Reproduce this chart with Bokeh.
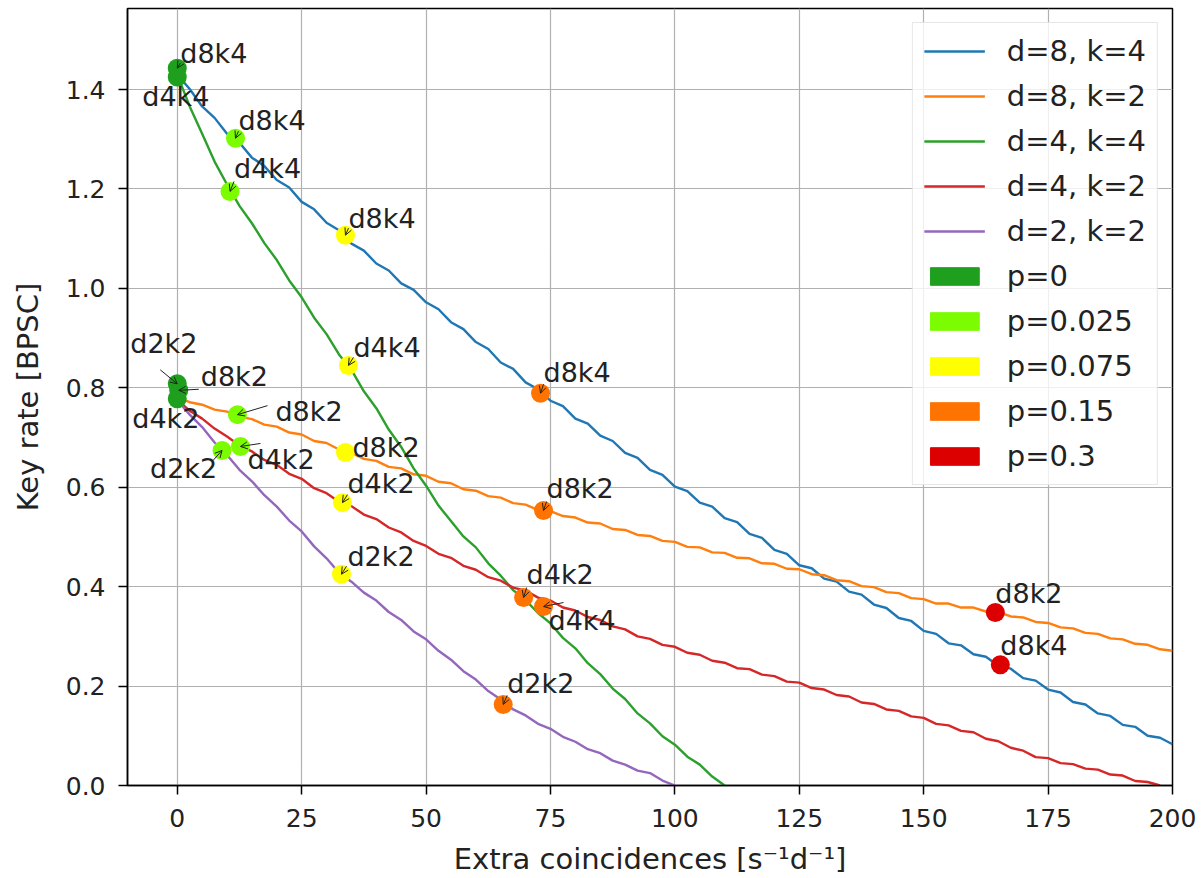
from bokeh.plotting import figure
from bokeh.models import (ColumnDataSource, Range1d, FixedTicker, PrintfTickFormatter,
                          Legend, LegendItem, Arrow, OpenHead)
from bokeh.core.properties import value
from bokeh.embed import file_html
from bokeh.resources import INLINE

FONT = "DejaVu Sans"

# ---------------- data ----------------
X_GRID = [0, 2.5, 5, 7.5, 10, 12.5, 15, 17.5, 20, 22.5, 25, 27.5, 30, 32.5, 35, 37.5,
          40, 42.5, 45, 47.5, 50, 52.5, 55, 57.5, 60, 62.5, 65, 67.5, 70, 72.5, 75, 77.5,
          80, 82.5, 85, 87.5, 90, 92.5, 95, 97.5, 100, 102.5, 105, 107.5, 110, 112.5, 115,
          117.5, 120, 122.5, 125, 127.5, 130, 132.5, 135, 137.5, 140, 142.5, 145, 147.5,
          150, 152.5, 155, 157.5, 160, 162.5, 165, 167.5, 170, 172.5, 175, 177.5, 180,
          182.5, 185, 187.5, 190, 192.5, 195, 197.5, 200]

Y_D8K4 = [1.430, 1.401, 1.366, 1.343, 1.311, 1.293, 1.263, 1.246, 1.218, 1.203, 1.174, 1.159,
          1.132, 1.117, 1.090, 1.076, 1.050, 1.036, 1.010, 0.997, 0.972, 0.958, 0.932, 0.918,
          0.892, 0.878, 0.851, 0.838, 0.811, 0.797, 0.774, 0.763, 0.738, 0.728, 0.704, 0.693,
          0.669, 0.659, 0.635, 0.625, 0.601, 0.592, 0.569, 0.561, 0.538, 0.530, 0.506, 0.498,
          0.474, 0.466, 0.443, 0.437, 0.416, 0.410, 0.390, 0.384, 0.364, 0.357, 0.337, 0.331,
          0.311, 0.305, 0.286, 0.282, 0.264, 0.259, 0.241, 0.235, 0.216, 0.211, 0.193, 0.187,
          0.168, 0.163, 0.145, 0.140, 0.122, 0.118, 0.100, 0.096, 0.083]

Y_D8K2 = [0.780, 0.771, 0.766, 0.756, 0.752, 0.742, 0.737, 0.726, 0.722, 0.710, 0.706, 0.693,
          0.689, 0.676, 0.669, 0.657, 0.653, 0.641, 0.638, 0.626, 0.623, 0.611, 0.608, 0.596,
          0.593, 0.582, 0.579, 0.568, 0.565, 0.554, 0.552, 0.542, 0.539, 0.529, 0.527, 0.516,
          0.514, 0.504, 0.502, 0.492, 0.490, 0.480, 0.479, 0.469, 0.468, 0.458, 0.457, 0.447,
          0.446, 0.436, 0.435, 0.425, 0.423, 0.413, 0.411, 0.401, 0.399, 0.389, 0.387, 0.377,
          0.375, 0.366, 0.366, 0.358, 0.358, 0.350, 0.349, 0.340, 0.338, 0.329, 0.327, 0.318,
          0.316, 0.307, 0.305, 0.296, 0.294, 0.285, 0.283, 0.274, 0.271]

Y_D4K4 = [1.430, 1.366, 1.311, 1.255, 1.209, 1.166, 1.131, 1.091, 1.057, 1.016, 0.982, 0.941,
          0.908, 0.867, 0.836, 0.793, 0.759, 0.716, 0.681, 0.638, 0.603, 0.563, 0.532, 0.501,
          0.479, 0.447, 0.422, 0.393, 0.373, 0.347, 0.326, 0.297, 0.276, 0.246, 0.224, 0.195,
          0.174, 0.145, 0.125, 0.099, 0.082, 0.058, 0.042, 0.018, 0.000]

Y_D4K2 = [0.775, 0.754, 0.738, 0.718, 0.702, 0.684, 0.672, 0.655, 0.645, 0.627, 0.617, 0.598,
          0.588, 0.571, 0.562, 0.545, 0.536, 0.519, 0.509, 0.492, 0.482, 0.466, 0.458, 0.442,
          0.434, 0.419, 0.412, 0.398, 0.392, 0.378, 0.372, 0.358, 0.352, 0.339, 0.333, 0.320,
          0.314, 0.300, 0.295, 0.283, 0.279, 0.267, 0.263, 0.251, 0.247, 0.236, 0.234, 0.223,
          0.220, 0.209, 0.207, 0.196, 0.193, 0.182, 0.179, 0.167, 0.164, 0.153, 0.150, 0.139,
          0.136, 0.124, 0.121, 0.110, 0.107, 0.094, 0.089, 0.076, 0.070, 0.057, 0.055, 0.045,
          0.043, 0.034, 0.032, 0.022, 0.020, 0.009, 0.007, 0.000]

Y_D2K2 = [0.775, 0.746, 0.721, 0.690, 0.665, 0.635, 0.612, 0.584, 0.561, 0.533, 0.511, 0.481,
          0.457, 0.428, 0.410, 0.388, 0.372, 0.349, 0.333, 0.310, 0.294, 0.271, 0.253, 0.230,
          0.213, 0.190, 0.173, 0.153, 0.141, 0.124, 0.114, 0.098, 0.088, 0.073, 0.065, 0.050,
          0.042, 0.030, 0.025, 0.010, 0.000]

SERIES_LABELS = ["d=8, k=4", "d=8, k=2", "d=4, k=4", "d=4, k=2", "d=2, k=2"]
SERIES_Y = [Y_D8K4, Y_D8K2, Y_D4K4, Y_D4K2, Y_D2K2]
SERIES_COLORS = ["#1f77b4", "#ff7f0e", "#2ca02c", "#d62728", "#9467bd"]

P_LABELS = ["p=0", "p=0.025", "p=0.075", "p=0.15", "p=0.3"]
P_COLORS = ["#1ea01e", "#7cfc00", "#ffff00", "#ff7400", "#dd0000"]

# marked operating points
MK_TEXT = ["d8k4", "d4k4", "d2k2", "d8k2", "d4k2",
           "d8k4", "d4k4", "d8k2", "d2k2", "d4k2",
           "d8k4", "d4k4", "d8k2", "d4k2", "d2k2",
           "d8k4", "d8k2", "d4k2", "d4k4", "d2k2",
           "d8k2", "d8k4"]
MK_P = [0, 0, 0, 0, 0,
        1, 1, 1, 1, 1,
        2, 2, 2, 2, 2,
        3, 3, 3, 3, 3,
        4, 4]
MK_X = [0.0, 0.0, 0.0, 0.3, 0.0,
        11.7, 10.6, 12.1, 9.0, 12.7,
        33.8, 34.4, 33.8, 33.2, 33.0,
        73.0, 73.6, 69.6, 73.6, 65.5,
        164.4, 165.4]
MK_Y = [1.443, 1.425, 0.808, 0.795, 0.778,
        1.302, 1.195, 0.746, 0.674, 0.682,
        1.107, 0.845, 0.670, 0.569, 0.425,
        0.789, 0.553, 0.378, 0.360, 0.163,
        0.348, 0.243]

X_TICKS = [0, 25, 50, 75, 100, 125, 150, 175, 200]
Y_TICKS = [0.0, 0.2, 0.4, 0.6, 0.8, 1.0, 1.2, 1.4]

# ---------------- layout / style (pixels) ----------------
FRAME_W, FRAME_H = 1045, 777
X0, X1 = -10, 200
Y0, Y1 = 0.0, 1.563
PXX = (X1 - X0) / FRAME_W
PXY = (Y1 - Y0) / FRAME_H
TEXT_RAISE = 9

# text offsets (px, right / up) and arrow starts (px, right / up) per annotation
TXT_DX = [3, -35, -47, 22, -45, 3, 4, 38, -72, 7, 3, 5, 7, 5, 6, 3, 3, 3, 5, 4, 0, 0]
TXT_DY = [6, -28, 31, 5, -29, 9, 14, -6, -27, -22, 8, 9, -4, 10, 9, 12, 13, 14, -23, 12, 10, 10]
ARR_DX = [3, None, -17, 20, None, 3, 4, 30, -9, 20, 3, 5, None, 5, 5, 3, 3, 3, 20, 4, None, None]
ARR_DY = [5, None, 14, 1, None, 7, 10, 9, -10, 3, 7, 8, None, 8, 8, 9, 9, 10, 4, 9, None, None]

p = figure(frame_width=FRAME_W, frame_height=FRAME_H,
           x_range=Range1d(X0, X1), y_range=Range1d(Y0, Y1),
           output_backend="svg", toolbar_location=None,
           min_border_left=127, min_border_right=25, min_border_top=8, min_border_bottom=92,
           background_fill_color="white", border_fill_color="white")

p.outline_line_color = "black"
p.outline_line_width = 1.5

for g in (p.xgrid, p.ygrid):
    g.grid_line_color = "#b0b0b0"
    g.grid_line_width = 1.2
p.xgrid.ticker = FixedTicker(ticks=X_TICKS)
p.ygrid.ticker = FixedTicker(ticks=Y_TICKS)

p.xaxis.ticker = FixedTicker(ticks=X_TICKS)
p.yaxis.ticker = FixedTicker(ticks=Y_TICKS)
p.xaxis.formatter = PrintfTickFormatter(format="%d")
p.yaxis.formatter = PrintfTickFormatter(format="%.1f")
p.xaxis.axis_label = "Extra coincidences [s\u207b\u00b9d\u207b\u00b9]"
p.yaxis.axis_label = "Key rate [BPSC]"
for ax in (p.xaxis[0], p.yaxis[0]):
    ax.axis_line_width = 1.5
    ax.axis_line_color = "black"
    ax.major_tick_out = 9
    ax.major_tick_in = 0
    ax.major_tick_line_width = 1.5
    ax.minor_tick_line_color = None
    ax.major_label_text_font = FONT
    ax.major_label_text_font_size = "25px"
    ax.major_label_text_color = "#222222"
    ax.axis_label_text_font = FONT
    ax.axis_label_text_font_size = "29px"
    ax.axis_label_text_font_style = "normal"
    ax.axis_label_text_color = "#222222"
p.xaxis.major_label_standoff = 14
p.xaxis.axis_label_standoff = 12
p.yaxis.major_label_standoff = 13
p.yaxis.axis_label_standoff = 18

# curves
line_items = []
for lab, ys, col in zip(SERIES_LABELS, SERIES_Y, SERIES_COLORS):
    r = p.line(X_GRID[:len(ys)], ys, line_color=col, line_width=2.4)
    line_items.append(LegendItem(label=lab, renderers=[r]))

# legend patches for p levels (one undefined row so that the swatch has a colour)
NAN = float("nan")
patch_items = []
for lab, col in zip(P_LABELS, P_COLORS):
    r = p.quad(left=[NAN], right=[NAN], top=[NAN], bottom=[NAN], fill_color=col, line_color=col)
    patch_items.append(LegendItem(label=lab, renderers=[r]))

# markers
mk_src = ColumnDataSource(dict(x=MK_X, y=MK_Y, c=[P_COLORS[i] for i in MK_P]))
p.scatter("x", "y", source=mk_src, size=19, fill_color="c", line_color=None)

# arrows
ax_s, ay_s, ax_e, ay_e = [], [], [], []
for mx, my, dx, dy in zip(MK_X, MK_Y, ARR_DX, ARR_DY):
    if dx is None:
        continue
    ax_s.append(mx + dx * PXX)
    ay_s.append(my + dy * PXY)
    ax_e.append(mx)
    ay_e.append(my)
arr_src = ColumnDataSource(dict(xs=ax_s, ys=ay_s, xe=ax_e, ye=ay_e))
p.add_layout(Arrow(end=OpenHead(size=7, line_width=1, line_color="#222222"),
                   x_start="xs", y_start="ys", x_end="xe", y_end="ye",
                   line_width=1, line_color="#222222", source=arr_src))

# annotation texts
txt_src = ColumnDataSource(dict(x=MK_X, y=MK_Y, t=MK_TEXT,
                                xo=TXT_DX, yo=[-(d + TEXT_RAISE) for d in TXT_DY]))
p.text("x", "y", text="t", x_offset="xo", y_offset="yo", source=txt_src,
       text_font=value(FONT), text_font_size="27px", text_baseline="alphabetic",
       text_align="left", text_color="#222222")

legend = Legend(items=line_items + patch_items, location="top_right", margin=14,
                padding=11, spacing=11, glyph_width=61, glyph_height=22, label_standoff=22,
                label_text_font=FONT, label_text_font_size="29px", label_text_color="#222222",
                border_line_color="#d0d0d0", border_line_width=1.2,
                background_fill_color="white", background_fill_alpha=0.8)
p.add_layout(legend)

open("out.html", "w").write(file_html(p, INLINE))
